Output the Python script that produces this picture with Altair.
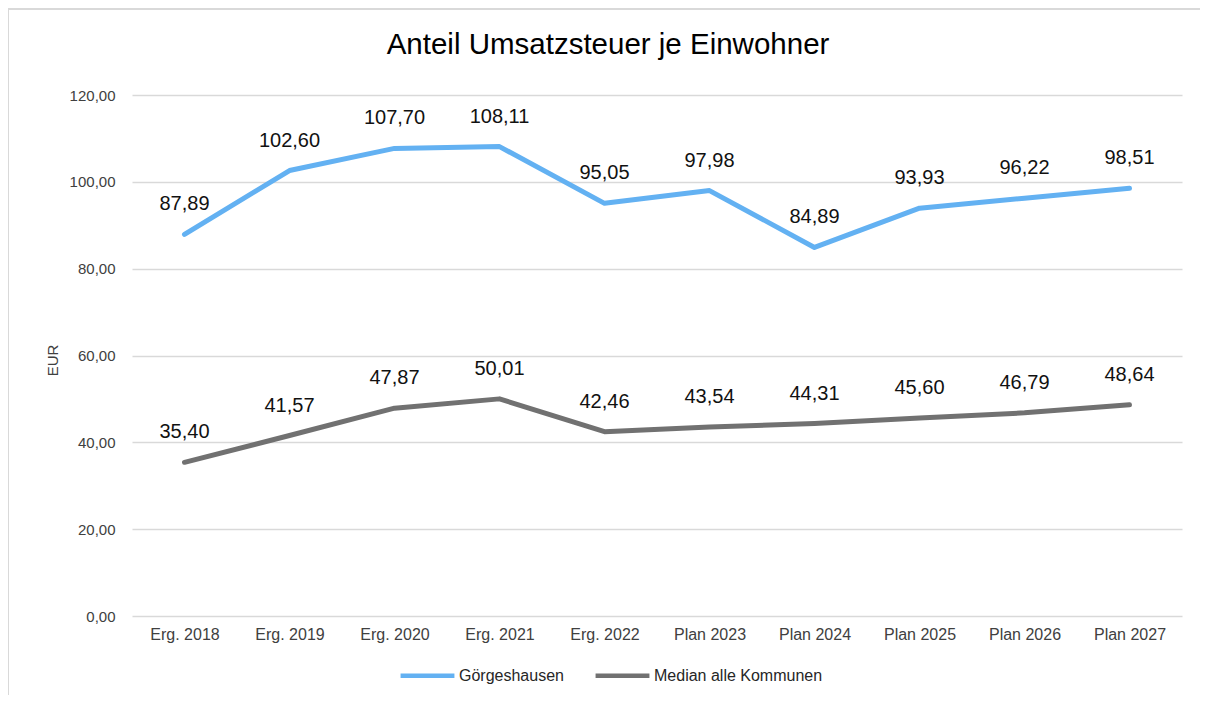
import altair as alt
import pandas as pd

categories = ["Erg. 2018", "Erg. 2019", "Erg. 2020", "Erg. 2021", "Erg. 2022",
              "Plan 2023", "Plan 2024", "Plan 2025", "Plan 2026", "Plan 2027"]
goergeshausen = [87.89, 102.60, 107.70, 108.11, 95.05, 97.98, 84.89, 93.93, 96.22, 98.51]
median_alle = [35.40, 41.57, 47.87, 50.01, 42.46, 43.54, 44.31, 45.60, 46.79, 48.64]
series_names = ["Görgeshausen", "Median alle Kommunen"]
series_colors = ["#63B1F2", "#717171"]
chart_title = "Anteil Umsatzsteuer je Einwohner"

rows = []
for name, vals in zip(series_names, [goergeshausen, median_alle]):
    for c, v in zip(categories, vals):
        rows.append({"Kategorie": c, "Serie": name, "Wert": v,
                     "Label": f"{v:.2f}".replace(".", ",")})
df = pd.DataFrame(rows)

FONT = "Liberation Sans"

x_enc = alt.X("Kategorie:N", sort=categories,
              scale=alt.Scale(type="point", padding=0.5),
              axis=alt.Axis(title=None, labelAngle=0, labelFontSize=16, labelColor="#404040",
                            labelFont=FONT, domain=False, ticks=False, labelPadding=10, grid=False))
y_enc = alt.Y("Wert:Q", scale=alt.Scale(domain=[0, 120], nice=False),
              axis=alt.Axis(values=[0, 20, 40, 60, 80, 100, 120],
                            labelExpr="replace(format(datum.value, '.2f'), '.', ',')",
                            labelFontSize=15, labelColor="#404040", labelFont=FONT,
                            domain=False, ticks=False, labelPadding=17,
                            gridColor="#D9D9D9", gridWidth=1.5,
                            title="EUR", titleFont=FONT, titleFontSize=15,
                            titleFontWeight="normal", titleColor="#404040",
                            titleX=-80, titleY=265, titleAngle=270,
                            titleAlign="center", titleBaseline="middle"))
color_enc = alt.Color("Serie:N",
                      scale=alt.Scale(domain=series_names, range=series_colors),
                      legend=alt.Legend(title=None, orient="none", legendX=266, legendY=551,
                                        direction="horizontal", symbolType="stroke",
                                        symbolSize=2900, symbolStrokeWidth=4.5,
                                        labelFontSize=16, labelFont=FONT, labelColor="#262626",
                                        labelOffset=2, columnPadding=22, labelLimit=400))

base = alt.Chart(df)
lines = base.mark_line(strokeWidth=5, strokeCap="round", strokeJoin="round").encode(
    x=x_enc, y=y_enc, color=color_enc, detail="Serie:N")
labels = base.mark_text(fontSize=20, font=FONT, color="#111111", baseline="middle",
                        align="center", dy=-30).encode(
    x=alt.X("Kategorie:N", sort=categories), y="Wert:Q", text="Label:N", detail="Serie:N")

one = pd.DataFrame({"t": [chart_title]})
frame = alt.Chart(one).mark_rect(
    fill=None, stroke="#D9D9D9", strokeWidth=2).encode(
    x=alt.value(-124), x2=alt.value(1110), y=alt.value(-86), y2=alt.value(640))
title = alt.Chart(one).mark_text(fontSize=29.5, font=FONT, color="#000000",
                                 align="center", baseline="middle").encode(
    x=alt.value(476), y=alt.value(-50), text="t:N")

chart = alt.layer(frame, lines, labels, title).properties(
    width=1050, height=521,
    background="white",
    autosize=alt.AutoSizeParams(type="none"),
    padding={"left": 124, "top": 87, "right": 18, "bottom": 79},
).configure_view(stroke=None)

chart.save("out.html", embed_options={"renderer": "svg", "actions": False})
